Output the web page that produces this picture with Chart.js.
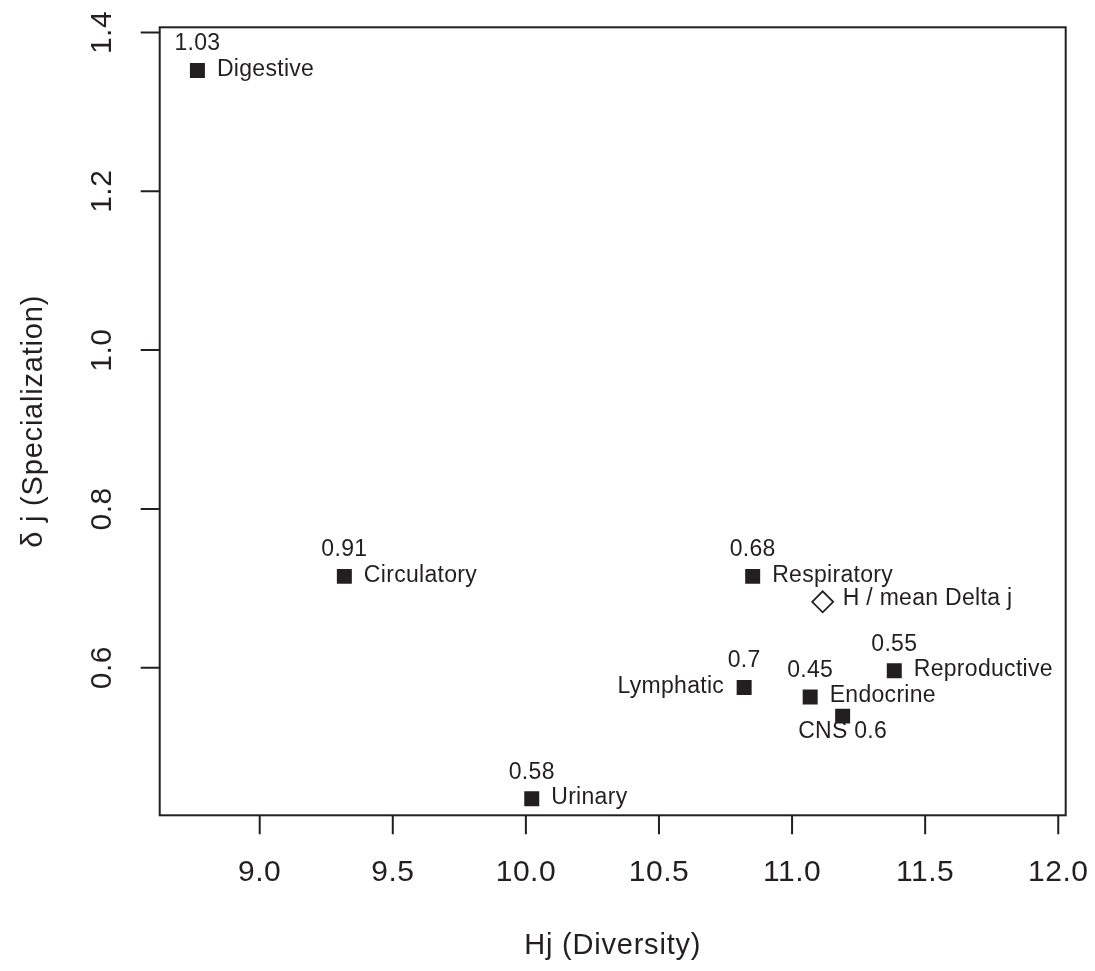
<!DOCTYPE html>
<html>
<head>
<meta charset="utf-8">
<script src="https://cdn.jsdelivr.net/npm/chart.js@4"></script>
<style>
  html, body { margin: 0; padding: 0; background: #fff; }
  #wrap { width: 1095px; height: 971px; }
</style>
</head>
<body>
<div id="wrap"><canvas id="canvasDJ" width="1095" height="971"></canvas></div>
<script>
'use strict';

// organ systems, diversity (Hj) and specialization (delta j)
const organs = ['Digestive', 'Circulatory', 'Respiratory', 'Lymphatic', 'Reproductive', 'Endocrine', 'CNS', 'Urinary'];
const diversity = [8.766, 9.318, 10.852, 10.820, 11.384, 11.068, 11.190, 10.022];
const specialization = [1.352, 0.715, 0.715, 0.575, 0.596, 0.563, 0.539, 0.435];
const valueLabels = ['1.03', '0.91', '0.68', '0.7', '0.55', '0.45', '0.6', '0.58'];

// reference point
const meanLabel = 'H / mean Delta j';
const meanDiversity = [11.115];
const meanSpecialization = [0.683];

// axis ticks
const xTicks = [9.0, 9.5, 10.0, 10.5, 11.0, 11.5, 12.0];
const xTickLabels = ['9.0', '9.5', '10.0', '10.5', '11.0', '11.5', '12.0'];
const yTicks = [0.6, 0.8, 1.0, 1.2, 1.4];
const yTickLabels = ['0.6', '0.8', '1.0', '1.2', '1.4'];

const xTitle = 'Hj (Diversity)';
const yTitle = 'δ j (Specialization)';

// where the name sits next to each point
const namePlace = ['right', 'right', 'right', 'left', 'right', 'right', 'below', 'right'];

const FONT = '"Liberation Sans", Arial, Helvetica, sans-serif';
const INK = '#231f20';

function toPoints(xs, ys){
    return xs.map((x, i) => ({x: x, y: ys[i]}));
}

const rFrame = {
    id: 'rFrame',
    beforeDatasetsDraw(chart){
        const ctx = chart.ctx;
        const meta = chart.getDatasetMeta(0);
        ctx.save();
        ctx.fillStyle = INK;
        ctx.font = '23px ' + FONT;
        ctx.letterSpacing = '0.3px';
        ctx.textBaseline = 'middle';
        meta.data.forEach((pt, i) => {
            const place = namePlace[i];
            if (place === 'below'){
                ctx.textAlign = 'center';
                ctx.fillText(organs[i] + ' ' + valueLabels[i], pt.x, pt.y + 16);
                return;
            }
            if (place === 'left'){
                ctx.textAlign = 'right';
                ctx.fillText(organs[i], pt.x - 20, pt.y - 1);
            } else {
                ctx.textAlign = 'left';
                ctx.fillText(organs[i], pt.x + 19.5, pt.y - 1);
            }
            ctx.textAlign = 'center';
            ctx.fillText(valueLabels[i], pt.x, pt.y - 26.5);
        });
        const m = chart.getDatasetMeta(1).data[0];
        ctx.textAlign = 'left';
        ctx.fillText(meanLabel, m.x + 20, m.y - 3);
        ctx.restore();
    },
    afterDraw(chart){
        const ctx = chart.ctx;
        const a = chart.chartArea;
        const sx = chart.scales.x, sy = chart.scales.y;
        ctx.save();
        ctx.strokeStyle = INK;
        ctx.lineWidth = 2;
        ctx.strokeRect(a.left, a.top, a.right - a.left, a.bottom - a.top);

        ctx.beginPath();
        xTicks.forEach(v => {
            const px = sx.getPixelForValue(v);
            ctx.moveTo(px, a.bottom);
            ctx.lineTo(px, a.bottom + 19);
        });
        yTicks.forEach(v => {
            const py = sy.getPixelForValue(v);
            ctx.moveTo(a.left, py);
            ctx.lineTo(a.left - 19, py);
        });
        ctx.stroke();

        ctx.fillStyle = INK;
        ctx.font = '30px ' + FONT;
        ctx.letterSpacing = '0.5px';
        ctx.textAlign = 'center';
        ctx.textBaseline = 'middle';
        xTicks.forEach((v, i) => {
            ctx.fillText(xTickLabels[i], sx.getPixelForValue(v), a.bottom + 57);
        });
        yTicks.forEach((v, i) => {
            ctx.save();
            ctx.translate(a.left - 57, sy.getPixelForValue(v));
            ctx.rotate(-Math.PI / 2);
            ctx.fillText(yTickLabels[i], 0, 0);
            ctx.restore();
        });

        ctx.font = '29px ' + FONT;
        ctx.letterSpacing = '0.8px';
        ctx.fillText(xTitle, (a.left + a.right) / 2, a.bottom + 131);
        ctx.save();
        ctx.translate(a.left - 126, (a.top + a.bottom) / 2);
        ctx.rotate(-Math.PI / 2);
        ctx.fillText(yTitle, 0, 0);
        ctx.restore();
        ctx.restore();
    }
};

const config = {
    type: 'scatter',
    data: {
        datasets: [{
            data: toPoints(diversity, specialization),
            pointStyle: 'rect',
            pointRadius: 10.6,
            pointHoverRadius: 10.6,
            backgroundColor: INK,
            borderColor: INK,
            borderWidth: 0
        }, {
            data: toPoints(meanDiversity, meanSpecialization),
            pointStyle: 'rectRot',
            pointRadius: 10.5,
            pointHoverRadius: 10.5,
            backgroundColor: '#ffffff',
            borderColor: INK,
            borderWidth: 1.8
        }]
    },
    plugins: [rFrame],
    options: {
        responsive: false,
        animation: false,
        events: [],
        layout: {
            padding: {left: 159.7, right: 29.3, top: 27.3, bottom: 155.7}
        },
        scales: {
            x: {type: 'linear', min: 8.6243, max: 12.028, display: false},
            y: {type: 'linear', min: 0.4141, max: 1.4065, display: false}
        },
        plugins: {
            legend: {display: false},
            tooltip: {enabled: false}
        }
    }
};

const ctx = document.querySelector('#canvasDJ').getContext('2d');
let chart = new Chart(ctx, config);
</script>
</body>
</html>
